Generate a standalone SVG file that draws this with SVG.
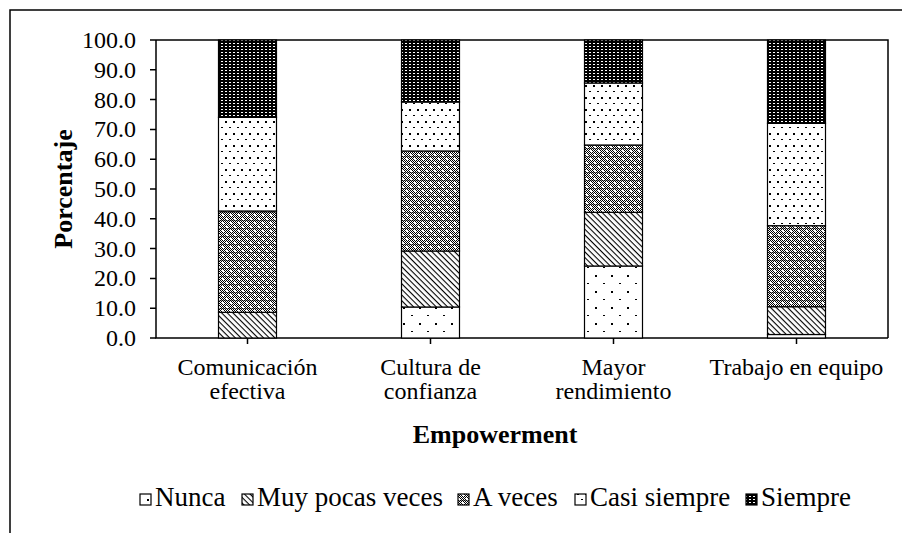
<svg xmlns="http://www.w3.org/2000/svg" width="902" height="533" viewBox="0 0 902 533">
<style>
  text { font-family: "Liberation Serif", "Times New Roman", serif; fill: #000; }
  .tick { font-size: 24px; text-anchor: end; }
  .cat { font-size: 24px; text-anchor: middle; }
  .title { font-size: 26px; font-weight: bold; text-anchor: middle; }
  .leg { font-size: 27px; }
  .seg { stroke: #000; stroke-width: 1.2; }
  .axis { stroke: #000; stroke-width: 1.5; fill: none; }
  .lsq { stroke: #000; stroke-width: 1.2; }
</style>
<defs>
  <pattern id="chk" width="2" height="2" patternUnits="userSpaceOnUse">
    <rect width="2" height="2" fill="#fff"/>
    <rect x="0" y="0" width="1" height="1" fill="#000"/>
    <rect x="1" y="1" width="1" height="1" fill="#000"/>
  </pattern>
  <pattern id="pN" width="16" height="16" patternUnits="userSpaceOnUse">
    <rect width="16" height="16" fill="#fff"/>
    <rect x="3" y="3" width="2" height="2" fill="#000"/>
    <rect x="11" y="11" width="2" height="1" fill="#000"/>
  </pattern>
  <pattern id="pM" width="4" height="4" patternUnits="userSpaceOnUse" patternTransform="rotate(45)">
    <rect width="4" height="4" fill="#fff"/>
    <rect x="0" y="0" width="4" height="1.1" fill="#000"/>
  </pattern>
  <pattern id="pA" width="8" height="8" patternUnits="userSpaceOnUse">
    <rect width="8" height="8" fill="url(#chk)"/>
    <rect x="0" y="4" width="8" height="1" fill="#000" opacity="0.4"/>
    <rect x="2" y="2" width="2" height="2" fill="#fff"/>
    <rect x="6" y="6" width="2" height="2" fill="#fff"/>
  </pattern>
  <pattern id="pC" width="8" height="12" patternUnits="userSpaceOnUse">
    <rect width="8" height="12" fill="#fff"/>
    <rect x="1" y="1" width="2" height="2" fill="#000"/>
    <rect x="5" y="7" width="2" height="1" fill="#000"/>
  </pattern>
  <pattern id="pS" width="4" height="3" patternUnits="userSpaceOnUse">
    <rect width="4" height="3" fill="#000"/>
    <rect x="1" y="1" width="2" height="1" fill="#fff"/>
  </pattern>
</defs>
<rect width="902" height="533" fill="#fff"/>
<!-- outer frame -->
<path d="M10 533 V10 H902" fill="none" stroke="#000" stroke-width="1.5"/>

<!-- plot frame and axes -->
<g id="axes">
  <path class="axis" d="M156 40 H888 V338"/>
  <path class="axis" d="M156 40 V338 H888"/>
  <path class="axis" d="M150 40H156M150 69.8H156M150 99.6H156M150 129.4H156M150 159.2H156M150 189H156M150 218.8H156M150 248.6H156M150 278.4H156M150 308.2H156M150 338H156"/>
  <path class="axis" d="M247.5 338V344M430.5 338V344M613.5 338V344M796.5 338V344"/>
</g>
<g id="ytick-labels">
  <text class="tick" x="136" y="48">100.0</text>
  <text class="tick" x="136" y="77.8">90.0</text>
  <text class="tick" x="136" y="107.6">80.0</text>
  <text class="tick" x="136" y="137.4">70.0</text>
  <text class="tick" x="136" y="167.2">60.0</text>
  <text class="tick" x="136" y="197">50.0</text>
  <text class="tick" x="136" y="226.8">40.0</text>
  <text class="tick" x="136" y="256.6">30.0</text>
  <text class="tick" x="136" y="286.4">20.0</text>
  <text class="tick" x="136" y="316.2">10.0</text>
  <text class="tick" x="136" y="346">0.0</text>
</g>

<g id="bar-comunicacion">
  <rect class="seg" x="218.5" y="312.3" width="58" height="25.7" fill="url(#pM)"/>
  <rect class="seg" x="218.5" y="211" width="58" height="101.3" fill="url(#pA)"/>
  <rect class="seg" x="218.5" y="117.3" width="58" height="93.7" fill="url(#pC)"/>
  <rect class="seg" x="218.5" y="40" width="58" height="77.3" fill="url(#pS)"/>
</g>
<g id="bar-cultura">
  <rect class="seg" x="401.5" y="307" width="58" height="31" fill="url(#pN)"/>
  <rect class="seg" x="401.5" y="251" width="58" height="56" fill="url(#pM)"/>
  <rect class="seg" x="401.5" y="151" width="58" height="100" fill="url(#pA)"/>
  <rect class="seg" x="401.5" y="102" width="58" height="49" fill="url(#pC)"/>
  <rect class="seg" x="401.5" y="40" width="58" height="62" fill="url(#pS)"/>
</g>
<g id="bar-mayor">
  <rect class="seg" x="584.5" y="266" width="58" height="72" fill="url(#pN)"/>
  <rect class="seg" x="584.5" y="212.3" width="58" height="53.7" fill="url(#pM)"/>
  <rect class="seg" x="584.5" y="145" width="58" height="67.3" fill="url(#pA)"/>
  <rect class="seg" x="584.5" y="83" width="58" height="62" fill="url(#pC)"/>
  <rect class="seg" x="584.5" y="40" width="58" height="43" fill="url(#pS)"/>
</g>
<g id="bar-trabajo">
  <rect class="seg" x="767.5" y="334.5" width="58" height="3.5" fill="url(#pN)"/>
  <rect class="seg" x="767.5" y="306.7" width="58" height="27.8" fill="url(#pM)"/>
  <rect class="seg" x="767.5" y="225.7" width="58" height="81" fill="url(#pA)"/>
  <rect class="seg" x="767.5" y="123.3" width="58" height="102.4" fill="url(#pC)"/>
  <rect class="seg" x="767.5" y="40" width="58" height="83.3" fill="url(#pS)"/>
</g>

<g id="category-labels">
  <text class="cat" x="247.5" y="375">Comunicación</text>
  <text class="cat" x="247.5" y="399">efectiva</text>
  <text class="cat" x="430.5" y="375">Cultura de</text>
  <text class="cat" x="430.5" y="399">confianza</text>
  <text class="cat" x="613.5" y="375">Mayor</text>
  <text class="cat" x="613.5" y="399">rendimiento</text>
  <text class="cat" x="796.5" y="375">Trabajo en equipo</text>
</g>

<g id="axis-titles">
  <text class="title" x="495" y="443">Empowerment</text>
  <text class="title" transform="translate(72 189) rotate(-90)">Porcentaje</text>
</g>

<g id="legend">
  <g id="leg-nunca">
    <rect class="lsq" x="140" y="494" width="11" height="11" fill="url(#pN)"/>
    <text class="leg" x="155" y="506">Nunca</text>
  </g>
  <g id="leg-muy">
    <rect class="lsq" x="242" y="494" width="11" height="11" fill="url(#pM)"/>
    <text class="leg" x="257" y="506">Muy pocas veces</text>
  </g>
  <g id="leg-aveces">
    <rect class="lsq" x="458" y="494" width="11" height="11" fill="url(#pA)"/>
    <text class="leg" x="473" y="506">A veces</text>
  </g>
  <g id="leg-casi">
    <rect class="lsq" x="575" y="494" width="11" height="11" fill="url(#pC)"/>
    <text class="leg" x="590" y="506">Casi siempre</text>
  </g>
  <g id="leg-siempre">
    <rect class="lsq" x="746" y="494" width="11" height="11" fill="url(#pS)"/>
    <text class="leg" x="761" y="506">Siempre</text>
  </g>
</g>
</svg>
